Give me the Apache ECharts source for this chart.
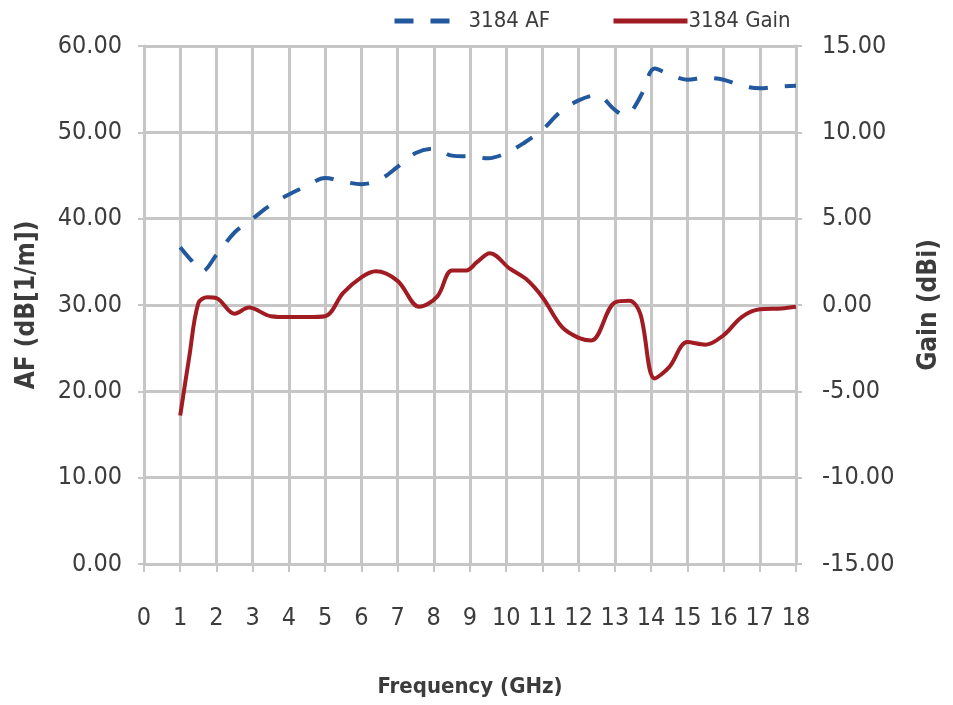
<!DOCTYPE html>
<html>
<head>
<meta charset="utf-8">
<script src="https://cdn.jsdelivr.net/npm/echarts@6/dist/echarts.min.js"></script>
<style>
  html, body { margin: 0; padding: 0; background: #fff; }
  #chart { width: 953px; height: 705px; }
</style>
</head>
<body>
<div id="chart"></div>
<script>
// data
var afFreq = [1, 1.3, 1.6, 2, 2.5, 3, 3.5, 4, 4.5, 5, 5.5, 6, 6.5, 7, 7.5, 8, 8.5, 9, 9.5, 10, 10.5, 11, 11.5, 12, 12.5, 13, 13.25, 13.45, 13.75, 14.1, 14.5, 15, 15.5, 16, 16.5, 17, 17.5, 18];
var afValues = [36.7, 35.2, 33.9, 35.8, 38.4, 40.0, 41.6, 42.8, 43.8, 44.7, 44.3, 44.0, 44.5, 46.0, 47.6, 48.1, 47.3, 47.2, 47.0, 47.6, 48.8, 50.3, 52.4, 53.7, 54.3, 52.6, 52.0, 52.4, 54.5, 57.4, 56.7, 56.1, 56.3, 56.1, 55.4, 55.1, 55.3, 55.4];

var gainFreq = [1, 1.25, 1.5, 1.75, 2, 2.5, 2.9, 3.5, 4, 4.5, 5, 5.5, 6, 6.4, 7, 7.6, 8.1, 8.5, 8.9, 9.2, 9.55, 10.1, 10.55, 11, 11.55, 12, 12.35, 13, 13.4, 13.7, 14.1, 14.5, 15, 15.5, 16, 16.5, 17, 17.6, 18];
var gainValues = [-6.4, -3.0, 0.1, 0.45, 0.4, -0.5, -0.15, -0.65, -0.7, -0.7, -0.65, 0.7, 1.6, 1.95, 1.4, -0.1, 0.5, 2.0, 2.0, 2.5, 3.0, 2.1, 1.5, 0.45, -1.3, -1.9, -2.05, 0.15, 0.25, -0.5, -4.25, -3.6, -2.15, -2.3, -1.75, -0.7, -0.25, -0.2, -0.1];

var seriesNames = ['3184 AF', '3184 Gain'];

function pairs(xs, ys) {
    return xs.map(function (x, i) { return [x, ys[i]]; });
}

var font = '"Liberation Sans Narrow", "DejaVu Sans Condensed", sans-serif';
var textColor = '#3c3c3c';
var gridColor = '#c6c6c6';
var blue = '#22589e';
var red = '#a01b22';

var chart = echarts.init(document.getElementById('chart'));

chart.setOption({
    animation: false,
    backgroundColor: '#fff',
    textStyle: { fontFamily: font },
    grid: { left: 144, right: 157, top: 46, bottom: 141, outerBoundsMode: 'none' },
    legend: [{
        data: [seriesNames[0]],
        left: 387, top: 5,
        itemWidth: 55, itemHeight: 6,
        itemStyle: { opacity: 0 },
        lineStyle: { width: 5 },
        textStyle: { fontFamily: font, fontSize: 22, color: textColor, padding: [0, 0, 0, 14] }
    }, {
        data: [seriesNames[1]],
        left: 606, top: 5,
        itemWidth: 74, itemHeight: 6,
        itemStyle: { opacity: 0 },
        lineStyle: { width: 5 },
        textStyle: { fontFamily: font, fontSize: 22, color: textColor, padding: [0, 0, 0, -4] }
    }],
    xAxis: {
        type: 'value',
        min: 0, max: 18, interval: 1,
        name: 'Frequency (GHz)',
        nameLocation: 'middle',
        nameGap: 112,
        nameTextStyle: { fontFamily: font, fontSize: 22, fontWeight: 'bold', color: textColor },
        axisLine: { lineStyle: { color: gridColor, width: 3 } },
        axisTick: { show: true, length: 8, lineStyle: { color: gridColor, width: 2 } },
        axisLabel: { margin: 42, fontSize: 25, color: textColor, fontFamily: font },
        splitLine: { show: true, lineStyle: { color: gridColor, width: 3 } }
    },
    yAxis: [{
        type: 'value',
        min: 0, max: 60, interval: 10,
        name: 'AF (dB[1/m])',
        nameLocation: 'middle',
        nameRotate: 90,
        nameGap: 104,
        nameTextStyle: { fontFamily: font, fontSize: 26, fontWeight: 'bold', color: textColor },
        axisLine: { show: true, lineStyle: { color: gridColor, width: 3 } },
        axisTick: { show: true, length: 6, lineStyle: { color: gridColor, width: 2 } },
        axisLabel: { margin: 22, fontSize: 25, color: textColor, fontFamily: font,
            formatter: function (v) { return v.toFixed(2); } },
        splitLine: { show: true, lineStyle: { color: gridColor, width: 3 } }
    }, {
        type: 'value',
        min: -15, max: 15, interval: 5,
        name: 'Gain (dBi)',
        nameLocation: 'middle',
        nameRotate: 90,
        nameGap: 120,
        nameTextStyle: { fontFamily: font, fontSize: 26, fontWeight: 'bold', color: textColor },
        axisLine: { show: true, lineStyle: { color: gridColor, width: 3 } },
        axisTick: { show: true, length: 6, lineStyle: { color: gridColor, width: 2 } },
        axisLabel: { margin: 26, fontSize: 25, color: textColor, fontFamily: font,
            formatter: function (v) { return v.toFixed(2); } },
        splitLine: { show: false }
    }],
    series: [{
        name: seriesNames[0],
        type: 'line',
        yAxisIndex: 0,
        data: pairs(afFreq, afValues),
        smooth: 0.35,
        showSymbol: false,
        symbol: 'none',
        color: blue,
        lineStyle: { color: blue, width: 4, type: [19, 17] }
    }, {
        name: seriesNames[1],
        type: 'line',
        yAxisIndex: 1,
        data: pairs(gainFreq, gainValues),
        smooth: 0.35,
        showSymbol: false,
        symbol: 'none',
        color: red,
        lineStyle: { color: red, width: 4 }
    }]
});
</script>
</body>
</html>
